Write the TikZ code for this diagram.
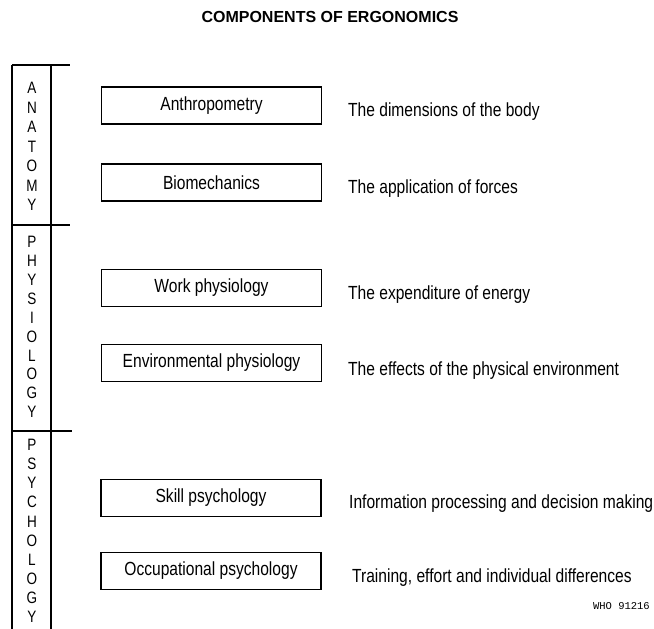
\documentclass[tikz,border=0pt]{standalone}
\usepackage{fontspec}
\setmainfont{Liberation Sans}
\newfontfamily\condfont[FakeStretch=0.82]{Liberation Sans}
\newfontfamily\monofont{Liberation Mono}
\begin{document}
\begin{tikzpicture}[x=1pt,y=-1pt,
  comp/.style={draw,line width=1.1pt,minimum width=220pt,minimum height=37pt,inner sep=0pt,font=\condfont\fontsize{19}{19}\selectfont},
  desc/.style={anchor=base west,inner sep=0pt,font=\condfont\fontsize{19}{19}\selectfont},
  letter/.style={inner sep=0pt,font=\condfont\fontsize{16.5}{16.5}\selectfont},
  rule/.style={line width=1.3pt}]
\useasboundingbox (0,0) rectangle (654,629);
\node[font=\bfseries\fontsize{16}{16}\selectfont] (title) at (330,17) {COMPONENTS OF ERGONOMICS};
% column
\coordinate (tl) at (12,65); \coordinate (tr) at (70,65);
\coordinate (bl) at (12,629); \coordinate (ir) at (51,65); \coordinate (ib) at (51,629);
\coordinate (d1l) at (12,225); \coordinate (d1r) at (70,225);
\coordinate (d2l) at (12,431); \coordinate (d2r) at (72,431);
\draw[rule] (tl) -- (bl);
\draw[rule] (ir) -- (ib);
\draw[rule] (tl) -- (tr);
\draw[rule] (d1l) -- (d1r);
\draw[rule] (d2l) -- (d2r);
\foreach \c [count=\i] in {A,N,A,T,O,M,Y}
  \node[letter] (an\i) at (32,{88+19.5*(\i-1)}) {\c};
\foreach \c [count=\i] in {P,H,Y,S,I,O,L,O,G,Y}
  \node[letter] (ph\i) at (32,{242+18.9*(\i-1)}) {\c};
\foreach \c [count=\i] in {P,S,Y,C,H,O,L,O,G,Y}
  \node[letter] (ps\i) at (32,{445+19.1*(\i-1)}) {\c};
% boxes
\node[comp] (b1) at (211.5,105.5) {Anthropometry};
\node[comp] (b2) at (211.5,182.5) {Biomechanics};
\node[comp] (b3) at (211.5,288) {Work physiology};
\node[comp] (b4) at (211.5,363) {Environmental physiology};
\node[comp] (b5) at (211,498) {Skill psychology};
\node[comp] (b6) at (211,571) {Occupational psychology};
% descriptions
\node[desc] (t1) at (348,116.5) {The dimensions of the body};
\node[desc] (t2) at (348,193.5) {The application of forces};
\node[desc] (t3) at (348,299) {The expenditure of energy};
\node[desc] (t4) at (348,375) {The effects of the physical environment};
\node[desc] (t5) at (349,508) {Information processing and decision making};
\node[desc] (t6) at (352,582) {Training, effort and individual differences};
\node[anchor=base east,inner sep=0pt,font=\monofont\fontsize{10.5}{10.5}\selectfont] (who) at (650,609) {WHO 91216};
\end{tikzpicture}
\end{document}
